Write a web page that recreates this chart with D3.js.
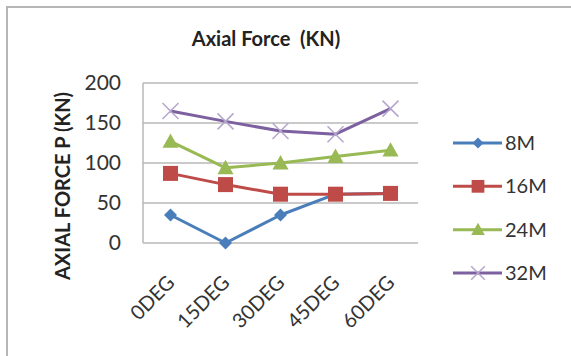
<!DOCTYPE html>
<html>
<head>
<meta charset="utf-8">
<script src="https://cdn.jsdelivr.net/npm/d3@7"></script>
<style>
  html, body { margin: 0; padding: 0; background: #fff; }
  svg { display: block; font-family: Lato, "Open Sans", sans-serif; }
</style>
</head>
<body>
<svg id="chart" width="571" height="356"></svg>
<script>
// Axial force by angle, one series per length
const categories = ["0DEG", "15DEG", "30DEG", "45DEG", "60DEG"];
const seriesNames = ["8M", "16M", "24M", "32M"];
const values8M  = [35, 0, 35, 61, 62];
const values16M = [87, 73, 61, 61, 62];
const values24M = [127, 94, 100, 108, 116];
const values32M = [165, 152, 140, 136, 168];
const yTicks = [0, 50, 100, 150, 200];

const series = [
  { name: seriesNames[0], values: values8M,  color: "#4a7ebb", marker: "diamond" },
  { name: seriesNames[1], values: values16M, color: "#be4b48", marker: "square" },
  { name: seriesNames[2], values: values24M, color: "#98b954", marker: "triangle" },
  { name: seriesNames[3], values: values32M, color: "#7d60a0", marker: "cross" }
];

const svg = d3.select("#chart");
const plot = { left: 143, right: 418, top: 83, bottom: 243 };
const textColor = "#333";

// outer frame
svg.append("rect")
  .attr("x", 7).attr("y", 7).attr("width", 580).attr("height", 360)
  .attr("fill", "#fff").attr("stroke", "#b5b5b5").attr("stroke-width", 2);

const x = d3.scalePoint().domain(categories).range([plot.left, plot.right]).padding(0.5);
const y = d3.scaleLinear().domain([0, 200]).range([plot.bottom, plot.top]);

// horizontal gridlines
svg.append("g").selectAll("line").data(yTicks).join("line")
  .attr("x1", plot.left).attr("x2", plot.right)
  .attr("y1", d => y(d)).attr("y2", d => y(d))
  .attr("stroke", "#b9b9b9").attr("stroke-width", 1.5);

// vertical axis line
svg.append("line")
  .attr("x1", plot.left).attr("x2", plot.left)
  .attr("y1", plot.top).attr("y2", plot.bottom)
  .attr("stroke", "#b9b9b9").attr("stroke-width", 1.5);

// y tick labels
const yAxis = d3.axisLeft(y).tickValues(yTicks).tickSize(0).tickPadding(0);
const gy = svg.append("g").attr("transform", `translate(121,0)`).call(yAxis);
gy.select(".domain").remove();
gy.selectAll("text")
  .attr("font-size", 21).attr("fill", textColor)
  .attr("font-family", "Lato, 'Open Sans', sans-serif");

// x tick labels, rotated
const xAxis = d3.axisBottom(x).tickSize(0).tickPadding(0);
const gx = svg.append("g").attr("transform", `translate(0,${plot.bottom})`).call(xAxis);
gx.select(".domain").remove();
gx.selectAll("text")
  .attr("font-size", 20).attr("fill", textColor)
  .attr("font-family", "Lato, 'Open Sans', sans-serif")
  .attr("text-anchor", "end")
  .attr("dy", "0.35em")
  .attr("transform", "translate(0,36) rotate(-45)");

// titles
svg.append("text")
  .attr("x", 266).attr("y", 46)
  .attr("text-anchor", "middle")
  .attr("font-size", 20).attr("font-weight", "bold").attr("fill", "#222")
  .attr("xml:space", "preserve")
  .text("Axial Force  (KN)");

svg.append("text")
  .attr("transform", "translate(70,186) rotate(-90)")
  .attr("text-anchor", "middle")
  .attr("font-size", 20).attr("font-weight", "bold").attr("fill", "#222")
  .text("AXIAL FORCE P (KN)");

function drawMarker(g, type, color, cx, cy, scale) {
  const s = scale || 1;
  if (type === "diamond") {
    const r = 6.5 * s;
    g.append("path").attr("d", `M${cx},${cy - r}L${cx + r},${cy}L${cx},${cy + r}L${cx - r},${cy}Z`)
      .attr("fill", color);
  } else if (type === "square") {
    const h = 7.5 * s;
    g.append("rect").attr("x", cx - h).attr("y", cy - h).attr("width", 2 * h).attr("height", 2 * h)
      .attr("fill", color);
  } else if (type === "triangle") {
    const h = 8 * s;
    g.append("path").attr("d", `M${cx},${cy - h}L${cx + h},${cy + h * 0.8}L${cx - h},${cy + h * 0.8}Z`)
      .attr("fill", color);
  } else if (type === "cross") {
    const h = 8 * s;
    g.append("path").attr("d", `M${cx - h},${cy - h}L${cx + h},${cy + h}M${cx - h},${cy + h}L${cx + h},${cy - h}`)
      .attr("stroke", "#b4a6cc").attr("stroke-width", 1.5).attr("fill", "none");
  }
}

const line = d3.line().x((d, i) => x(categories[i])).y(d => y(d));

series.forEach(s => {
  const g = svg.append("g");
  g.append("path").datum(s.values).attr("d", line)
    .attr("fill", "none").attr("stroke", s.color).attr("stroke-width", 3)
    .attr("stroke-linejoin", "round");
  s.values.forEach((v, i) => drawMarker(g, s.marker, s.color, x(categories[i]), y(v)));
});

// legend
const legendY = d3.scalePoint().domain(seriesNames).range([143, 273]);
series.forEach(s => {
  const ly = legendY(s.name);
  const g = svg.append("g");
  g.append("line").attr("x1", 453).attr("x2", 502).attr("y1", ly).attr("y2", ly)
    .attr("stroke", s.color).attr("stroke-width", 3);
  drawMarker(g, s.marker, s.color, 478, ly, 0.85);
  g.append("text").attr("x", 505).attr("y", ly).attr("dy", "0.35em")
    .attr("font-size", 20).attr("fill", textColor).text(s.name);
});
</script>
</body>
</html>
